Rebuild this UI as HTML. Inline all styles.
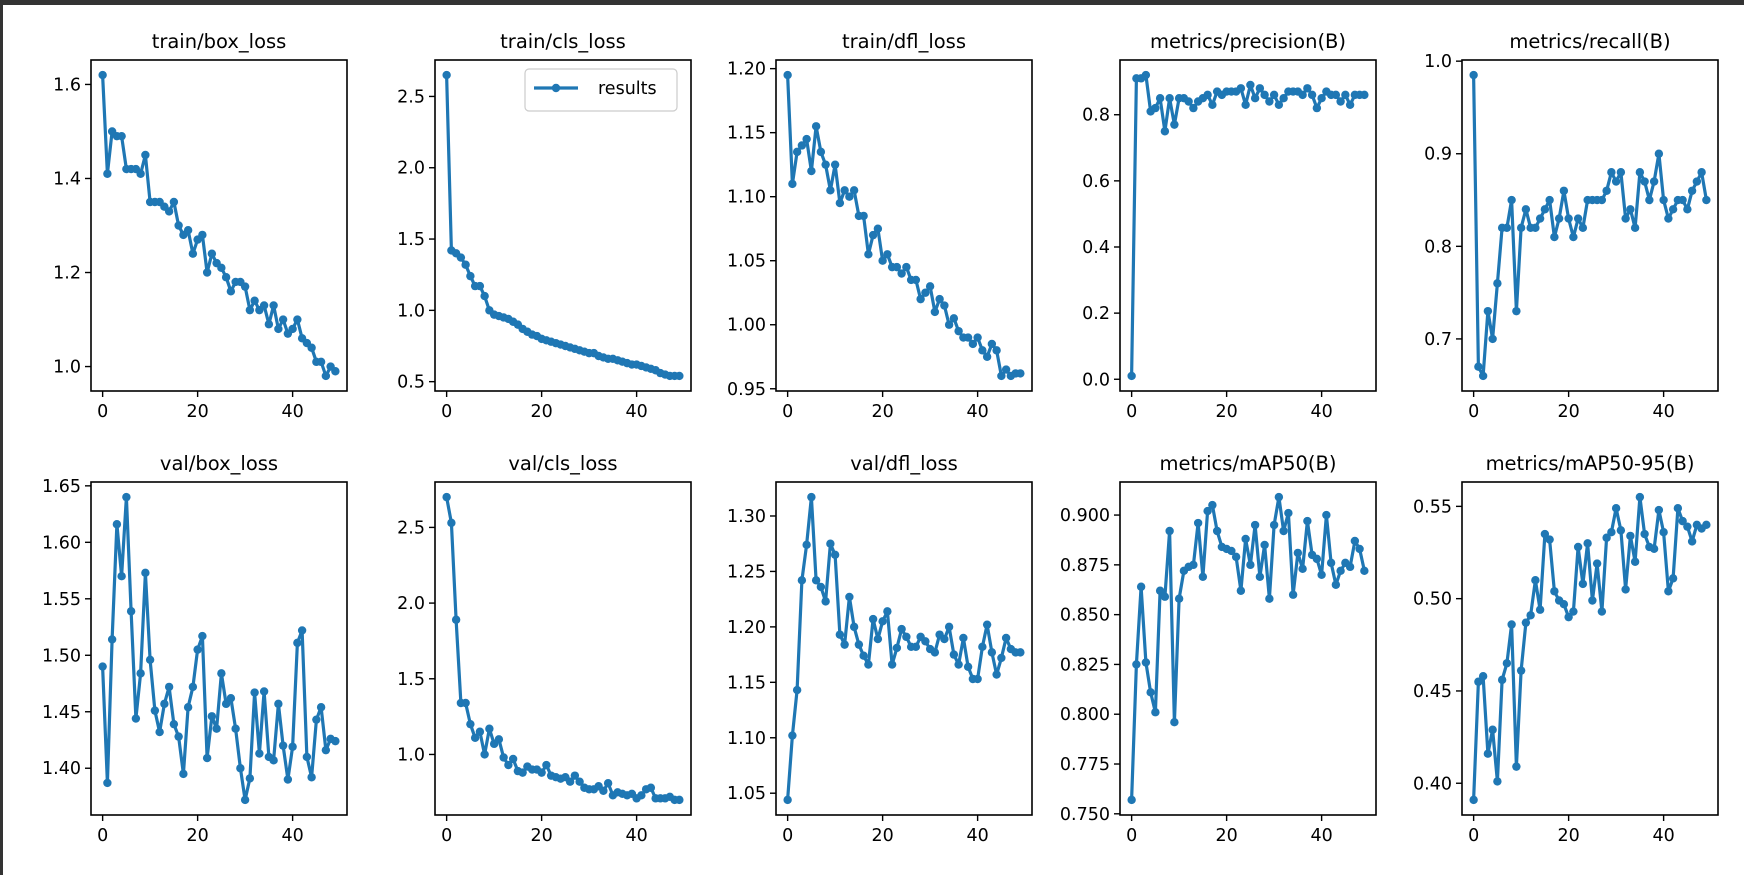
<!DOCTYPE html>
<html><head><meta charset="utf-8"><style>
html,body{margin:0;padding:0;background:#fff;}
#wrap{position:relative;width:1744px;height:875px;overflow:hidden;background:#fff;}
svg{position:absolute;left:0;top:0;}
text{font-family:"DejaVu Sans","Liberation Sans",sans-serif;fill:#000;}
</style></head><body>
<div id="wrap">
<svg id="fig" width="1744" height="875">
<rect x="0" y="0" width="1744" height="5" fill="#333"/>
<rect x="0" y="0" width="3" height="875" fill="#333"/>
</svg>
</div>
<script>
const epochs = Array.from({length:50},(_,i)=>i);
const xTicks = [0,20,40];
const trainBox = [1.62,1.41,1.50,1.49,1.49,1.42,1.42,1.42,1.41,1.45,1.35,1.35,1.35,1.34,1.33,1.35,1.30,1.28,1.29,1.24,1.27,1.28,1.20,1.24,1.22,1.21,1.19,1.16,1.18,1.18,1.17,1.12,1.14,1.12,1.13,1.09,1.13,1.08,1.10,1.07,1.08,1.10,1.06,1.05,1.04,1.01,1.01,0.98,1.00,0.99];
const trainCls = [2.65,1.42,1.40,1.37,1.32,1.24,1.17,1.17,1.10,1.00,0.97,0.96,0.95,0.94,0.92,0.90,0.87,0.85,0.83,0.82,0.80,0.79,0.78,0.77,0.76,0.75,0.74,0.73,0.72,0.71,0.70,0.70,0.68,0.67,0.66,0.66,0.65,0.64,0.63,0.62,0.62,0.61,0.60,0.59,0.58,0.56,0.55,0.54,0.54,0.54];
const trainDfl = [1.195,1.11,1.135,1.14,1.145,1.12,1.155,1.135,1.125,1.105,1.125,1.095,1.105,1.10,1.105,1.085,1.085,1.055,1.07,1.075,1.05,1.055,1.045,1.045,1.04,1.045,1.035,1.035,1.020,1.025,1.030,1.010,1.020,1.015,1.000,1.005,0.995,0.990,0.990,0.985,0.990,0.980,0.975,0.985,0.980,0.960,0.965,0.960,0.962,0.962];
const precision = [0.01,0.91,0.91,0.92,0.81,0.82,0.85,0.75,0.85,0.77,0.85,0.85,0.84,0.82,0.84,0.85,0.86,0.83,0.87,0.86,0.87,0.87,0.87,0.88,0.83,0.89,0.85,0.88,0.86,0.84,0.86,0.83,0.85,0.87,0.87,0.87,0.86,0.88,0.86,0.82,0.85,0.87,0.86,0.86,0.84,0.86,0.83,0.86,0.86,0.86];
const recall = [0.985,0.67,0.66,0.73,0.70,0.76,0.82,0.82,0.85,0.73,0.82,0.84,0.82,0.82,0.83,0.84,0.85,0.81,0.83,0.86,0.83,0.81,0.83,0.82,0.85,0.85,0.85,0.85,0.86,0.88,0.87,0.88,0.83,0.84,0.82,0.88,0.87,0.85,0.87,0.90,0.85,0.83,0.84,0.85,0.85,0.84,0.86,0.87,0.88,0.85];
const valBox = [1.49,1.387,1.514,1.616,1.57,1.64,1.539,1.444,1.484,1.573,1.496,1.451,1.432,1.457,1.472,1.439,1.428,1.395,1.454,1.472,1.505,1.517,1.409,1.446,1.435,1.484,1.457,1.462,1.435,1.40,1.372,1.391,1.467,1.413,1.468,1.41,1.407,1.457,1.42,1.39,1.419,1.511,1.522,1.41,1.392,1.443,1.454,1.416,1.426,1.424];
const valCls = [2.70,2.53,1.89,1.34,1.34,1.20,1.11,1.15,1.00,1.17,1.07,1.10,0.98,0.93,0.97,0.89,0.88,0.92,0.90,0.90,0.88,0.93,0.86,0.85,0.84,0.85,0.82,0.86,0.82,0.78,0.77,0.77,0.79,0.76,0.81,0.73,0.75,0.74,0.73,0.74,0.71,0.73,0.77,0.78,0.71,0.71,0.71,0.72,0.70,0.70];
const valDfl = [1.044,1.102,1.143,1.242,1.274,1.317,1.242,1.236,1.223,1.275,1.265,1.193,1.184,1.227,1.200,1.184,1.174,1.166,1.207,1.189,1.205,1.214,1.166,1.181,1.198,1.191,1.182,1.182,1.191,1.187,1.180,1.177,1.193,1.189,1.200,1.175,1.166,1.190,1.164,1.153,1.153,1.182,1.202,1.177,1.157,1.172,1.190,1.180,1.177,1.177];
const map50 = [0.757,0.825,0.864,0.826,0.811,0.801,0.862,0.859,0.892,0.796,0.858,0.872,0.874,0.875,0.896,0.869,0.902,0.905,0.892,0.884,0.883,0.882,0.879,0.862,0.888,0.875,0.895,0.869,0.885,0.858,0.895,0.909,0.892,0.901,0.860,0.881,0.873,0.897,0.880,0.878,0.870,0.900,0.876,0.865,0.872,0.876,0.874,0.887,0.883,0.872];
const map5095 = [0.391,0.455,0.458,0.416,0.429,0.401,0.456,0.465,0.486,0.409,0.461,0.487,0.491,0.510,0.494,0.535,0.532,0.504,0.499,0.497,0.490,0.493,0.528,0.508,0.530,0.499,0.519,0.493,0.533,0.536,0.549,0.537,0.505,0.534,0.520,0.555,0.535,0.528,0.527,0.548,0.536,0.504,0.511,0.549,0.542,0.539,0.531,0.540,0.538,0.540];

const ticksTrainBox = ["1.0","1.2","1.4","1.6"];
const ticksTrainCls = ["0.5","1.0","1.5","2.0","2.5"];
const ticksTrainDfl = ["0.95","1.00","1.05","1.10","1.15","1.20"];
const ticksPrecision = ["0.0","0.2","0.4","0.6","0.8"];
const ticksRecall = ["0.7","0.8","0.9","1.0"];
const ticksValBox = ["1.40","1.45","1.50","1.55","1.60","1.65"];
const ticksValCls = ["1.0","1.5","2.0","2.5"];
const ticksValDfl = ["1.05","1.10","1.15","1.20","1.25","1.30"];
const ticksMap50 = ["0.750","0.775","0.800","0.825","0.850","0.875","0.900"];
const ticksMap5095 = ["0.40","0.45","0.50","0.55"];

const panels = [
 {title:"train/box_loss", data:trainBox, ticks:ticksTrainBox, col:0,row:0, name:"train-box-loss"},
 {title:"train/cls_loss", data:trainCls, ticks:ticksTrainCls, col:1,row:0, name:"train-cls-loss", legend:true},
 {title:"train/dfl_loss", data:trainDfl, ticks:ticksTrainDfl, col:2,row:0, name:"train-dfl-loss"},
 {title:"metrics/precision(B)", data:precision, ticks:ticksPrecision, col:3,row:0, name:"precision"},
 {title:"metrics/recall(B)", data:recall, ticks:ticksRecall, col:4,row:0, name:"recall"},
 {title:"val/box_loss", data:valBox, ticks:ticksValBox, col:0,row:1, name:"val-box-loss"},
 {title:"val/cls_loss", data:valCls, ticks:ticksValCls, col:1,row:1, name:"val-cls-loss"},
 {title:"val/dfl_loss", data:valDfl, ticks:ticksValDfl, col:2,row:1, name:"val-dfl-loss"},
 {title:"metrics/mAP50(B)", data:map50, ticks:ticksMap50, col:3,row:1, name:"map50"},
 {title:"metrics/mAP50-95(B)", data:map5095, ticks:ticksMap5095, col:4,row:1, name:"map50-95"}
];

const NS="http://www.w3.org/2000/svg";
const svg=document.getElementById('fig');
const colLeft=[91,435,776,1120,1462];
const AW=256;
const rowTop=[60,482], AH=[331,333];
const C="#1f77b4";
function mk(tag,attrs,parent){const e=document.createElementNS(NS,tag);for(const k in attrs)e.setAttribute(k,attrs[k]);(parent||svg).appendChild(e);return e;}

panels.forEach(p=>{
  const L=colLeft[p.col], T=rowTop[p.row], H=AH[p.row];
  const g=mk('g',{});
  
  
  const mn=Math.min(...p.data), mx=Math.max(...p.data), r=mx-mn;
  const y0=mn-0.05*r, y1=mx+0.05*r;
  const xmin=-0.05*49, xmax=49*1.05;
  const sx=v=>L+(v-xmin)/(xmax-xmin)*AW;
  const sy=v=>T+H-(v-y0)/(y1-y0)*H;
  const t=mk('text',{x:L+AW/2,y:T-12,'text-anchor':'middle','font-size':19.5},g);
  t.textContent=p.title;
  
  
  const pts=p.data.map((v,i)=>sx(epochs[i]).toFixed(1)+','+sy(v).toFixed(1)).join(' ');
  const pl=mk('polyline',{points:pts,fill:'none',stroke:C,'stroke-width':3.2,'stroke-linejoin':'round'},g);
  
  
  p.data.forEach((v,i)=>{
    const c=mk('circle',{cx:sx(epochs[i]),cy:sy(v),r:4.2,fill:C},g);
    
    
  });
  const fr=mk('rect',{x:L,y:T,width:AW,height:H,fill:'none',stroke:'#000','stroke-width':1.6},g);
  
  
  xTicks.forEach(v=>{
    const x=sx(v);
    mk('line',{x1:x,y1:T+H,x2:x,y2:T+H+6,stroke:'#000','stroke-width':1.4},g);
    const tl=mk('text',{x:x,y:T+H+26,'text-anchor':'middle','font-size':17.5},g);
    tl.textContent=String(v);
    
    
  });
  p.ticks.forEach(s=>{
    const y=sy(parseFloat(s));
    if(y<T-1||y>T+H+1) return;
    mk('line',{x1:L-6,y1:y,x2:L,y2:y,stroke:'#000','stroke-width':1.4},g);
    const tl=mk('text',{x:L-10,y:y+6,'text-anchor':'end','font-size':17.5},g);
    tl.textContent=s;
    
    
  });
  if(p.legend){
    const lg=mk('g',{},g);
    
    
    mk('rect',{x:525,y:69,width:152,height:42,rx:4,fill:'#fff',stroke:'#ccc','stroke-width':1.2},lg);
    mk('line',{x1:534,y1:88,x2:578,y2:88,stroke:C,'stroke-width':3.2},lg);
    mk('circle',{cx:556,cy:88,r:4.2,fill:C},lg);
    const lt=mk('text',{x:598,y:94,'font-size':17.5},lg);
    lt.textContent='results';
    
    
  }
});
</script>
</body></html>
